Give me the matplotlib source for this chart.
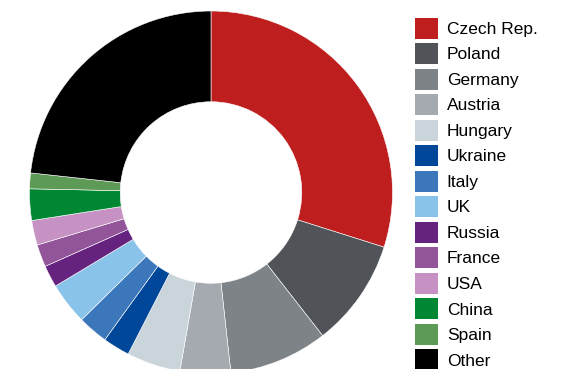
import matplotlib.pyplot as plt
from matplotlib.patches import Patch

countries = ["Czech Rep.", "Poland", "Germany", "Austria", "Hungary", "Ukraine",
             "Italy", "UK", "Russia", "France", "USA", "China", "Spain", "Other"]
shares = [29.9, 9.6, 8.8, 4.5, 4.8, 2.4, 2.7, 3.75, 1.95, 2.0, 2.2, 2.8, 1.4, 23.3]
colors = ["#be1e1e", "#505458", "#7e8387", "#a4aaaf", "#c9d4db", "#00479a",
          "#3b77ba", "#89c3ea", "#65237f", "#92559a", "#c692c4", "#008733",
          "#5c9a55", "#000000"]

plt.rcParams['font.family'] = ['Liberation Sans', 'DejaVu Sans']

W, H = 563, 369
fig = plt.figure(figsize=(W / 100, H / 100), dpi=100)

# donut centre and outer radius in pixels
cx, cy, r = 211, 192.5, 181.5
ax = fig.add_axes([(cx - r) / W, (H - cy - r) / H, 2 * r / W, 2 * r / H])

wedges, _ = ax.pie(shares, colors=colors, startangle=90, counterclock=False,
                   wedgeprops=dict(width=0.5, edgecolor="white", linewidth=0.4))
ax.set_xlim(-1, 1)
ax.set_ylim(-1, 1)
ax.set_aspect("equal")
ax.axis("off")

handles = [Patch(facecolor=c, edgecolor="none") for c in colors]
fig.legend(handles, countries, loc="upper left",
           bbox_to_anchor=(414.5 / W, 1 - 17.5 / H), frameon=False,
           fontsize=12.5, borderpad=0, borderaxespad=0,
           handlelength=1.325, handleheight=1.485, handletextpad=0.535,
           labelspacing=0.26)

fig.savefig("out.png", dpi=100)
